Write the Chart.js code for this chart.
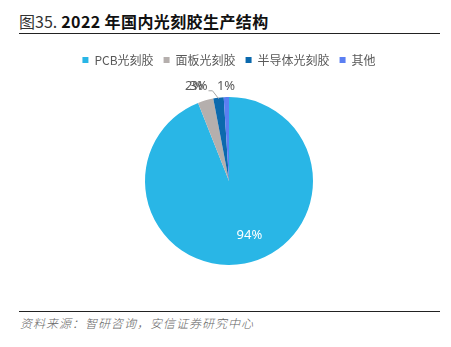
<!DOCTYPE html>
<html>
<head>
<meta charset="utf-8">
<script src="https://cdn.jsdelivr.net/npm/chart.js@4/dist/chart.umd.min.js"></script>
<style>
  html, body { margin: 0; padding: 0; background: #fff; }
  body { width: 451px; height: 347px; position: relative; overflow: hidden;
         font-family: "Noto Sans CJK SC", "Noto Sans", sans-serif; }
  .title { position: absolute; left: 19px; top: 10px; font-size: 16px; line-height: 22px; color: #111;
           white-space: nowrap; letter-spacing: 0.4px; }
  .title .num { font-weight: normal; color: #333; letter-spacing: 0; }
  .title b { font-weight: bold; }
  .rule { position: absolute; left: 19px; width: 421px; height: 1px; background: #222; }
  .source { position: absolute; left: 20px; top: 314px; font-size: 12px; line-height: 18px; color: #666;
            font-style: italic; font-weight: 300; white-space: nowrap; letter-spacing: 1px; }
  #wrap { position: absolute; left: 0; top: 44px; width: 451px; height: 242px; }
</style>
</head>
<body>
<div class="title"><span class="num">图35.</span> <b>2022 年国内光刻胶生产结构</b></div>
<div class="rule" style="top:33px"></div>
<div id="wrap"><canvas id="pie"></canvas></div>
<div class="rule" style="top:311px"></div>
<div class="source">资料来源：智研咨询，安信证券研究中心</div>
<script>
// 2022年国内光刻胶生产结构（%）
const categories = ["PCB光刻胶", "面板光刻胶", "半导体光刻胶", "其他"];
const shares = [94, 3, 2, 1];
const colors = ["#29b6e6", "#b5afad", "#0b69ad", "#5b7ff2"];

// label nudges for the thin slices (px); the 2%/3% labels are pushed left and share one leader line
const labelNudge = [null, { dx: -4, dy: -3, leaderTo: 2 }, { dx: -23, dy: 0 }, { dx: 0, dy: 0 }];

const pieLabels = {
  id: "pieLabels",
  afterDatasetsDraw(chart) {
    const ctx = chart.ctx;
    const meta = chart.getDatasetMeta(0);
    const props = meta.data.map(a => a.getProps(["x", "y", "startAngle", "endAngle", "outerRadius"], true));
    ctx.save();
    ctx.font = "13px 'Noto Sans', sans-serif";
    ctx.textAlign = "center";
    ctx.textBaseline = "middle";
    props.forEach((p, i) => {
      const mid = (p.startAngle + p.endAngle) / 2;
      const text = shares[i] + "%";
      if (shares[i] > 10) {
        const r = p.outerRadius * 0.66;
        ctx.fillStyle = "#ffffff";
        ctx.fillText(text, p.x + Math.cos(mid) * r + 10, p.y + Math.sin(mid) * r);
        return;
      }
      const r = p.outerRadius + 11;
      const n = labelNudge[i];
      const lx = p.x + Math.cos(mid) * r + n.dx;
      const ly = p.y + Math.sin(mid) * r + n.dy;
      if (n.leaderTo != null) {
        const q = props[n.leaderTo];
        const qm = (q.startAngle + q.endAngle) / 2;
        const ex = q.x + Math.cos(qm) * (q.outerRadius - 1);
        const ey = q.y + Math.sin(qm) * (q.outerRadius - 1);
        ctx.strokeStyle = "#a6a6a6";
        ctx.lineWidth = 1;
        ctx.beginPath();
        ctx.moveTo(lx + 10, ly + 4);
        ctx.lineTo(lx + 14, ly + 4);
        ctx.lineTo(ex, ey);
        ctx.stroke();
      }
      ctx.fillStyle = "#595959";
      ctx.fillText(text, lx, ly);
    });
    ctx.restore();
  }
};

new Chart(document.getElementById("pie"), {
  type: "pie",
  data: {
    labels: categories,
    datasets: [{
      data: shares,
      backgroundColor: colors,
      borderWidth: 0,
      radius: 84
    }]
  },
  options: {
    responsive: true,
    maintainAspectRatio: false,
    animation: false,
    layout: { padding: { left: 7, right: 0, top: 0, bottom: 0 } },
    plugins: {
      legend: {
        position: "top",
        labels: {
          boxWidth: 6,
          boxHeight: 6,
          padding: 10,
          color: "#595959",
          font: { size: 12, family: "'Noto Sans CJK SC', sans-serif" }
        }
      },
      tooltip: { enabled: false }
    }
  },
  plugins: [pieLabels]
});
</script>
</body>
</html>
